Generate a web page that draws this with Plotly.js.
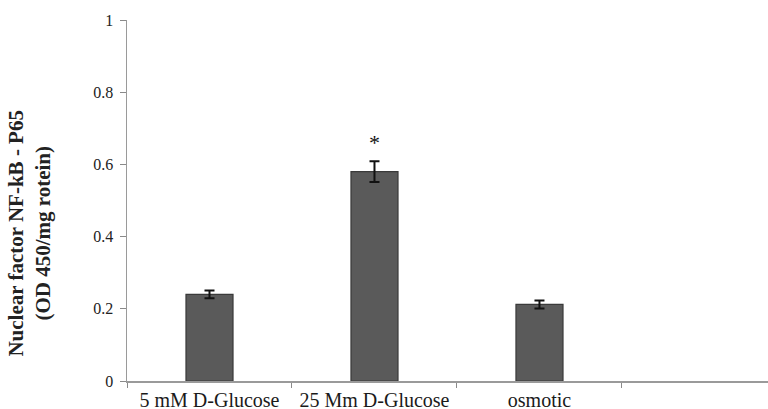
<!DOCTYPE html>
<html>
<head>
<meta charset="utf-8">
<script src="https://cdn.plot.ly/plotly-3.0.1.min.js"></script>
<style>html,body{margin:0;padding:0;background:#fff;}#chart{width:768px;height:409px;}</style>
</head>
<body>
<div id="chart"></div>
<script>
const categories = ["5 mM D-Glucose", "25 Mm D-Glucose", "osmotic"];
const allSlots = ["5 mM D-Glucose", "25 Mm D-Glucose", "osmotic", " "];
const values = [0.24, 0.58, 0.212];
const errors = [0.011, 0.029, 0.011];
const yTicks = [0, 0.2, 0.4, 0.6, 0.8, 1];
const yTickLabels = ["0", "0.2", "0.4", "0.6", "0.8", "1"];
const starCategory = "25 Mm D-Glucose";
const starY = 0.66;

const trace = {
  type: "bar",
  x: categories,
  y: values,
  width: 0.285,
  marker: {color: "#5a5a5a", line: {color: "#3a3a3a", width: 1.2}},
  error_y: {type: "data", array: errors, visible: true, color: "#111", thickness: 2, width: 5},
  hoverinfo: "none"
};

const serif = "Liberation Serif, Times New Roman, serif";

const layout = {
  width: 768, height: 409,
  margin: {l: 127, r: 0, t: 20, b: 28},
  paper_bgcolor: "#fff", plot_bgcolor: "#fff",
  showlegend: false,
  xaxis: {
    type: "category",
    categoryorder: "array",
    categoryarray: allSlots,
    range: [-0.5, 3.385],
    tickson: "boundaries",
    ticks: "outside", ticklen: 5, tickcolor: "#8a8a8a", tickwidth: 1,
    showline: true, linecolor: "#9a9a9a", linewidth: 1.5,
    showgrid: false, zeroline: false,
    tickfont: {family: serif, size: 20, color: "#1a1a1a"},
    fixedrange: true
  },
  yaxis: {
    range: [0, 1],
    tickvals: yTicks, ticktext: yTickLabels,
    ticks: "outside", ticklen: 6, tickcolor: "#8a8a8a", tickwidth: 1,
    showline: true, linecolor: "#9a9a9a", linewidth: 1.5,
    showgrid: false, zeroline: false,
    tickfont: {family: serif, size: 16, color: "#222"},
    ticklabelstandoff: 3,
    fixedrange: true
  },
  annotations: [
    {
      xref: "paper", yref: "paper", x: -0.152, y: 0.41,
      xanchor: "center", yanchor: "middle", textangle: -90, showarrow: false,
      text: "<b>Nuclear factor NF-kB - P65</b><br><b>(OD 450/mg rotein)</b>",
      font: {family: serif, size: 21, color: "#222"}, align: "center"
    },
    {
      xref: "x", yref: "y", x: starCategory, y: starY,
      showarrow: false, text: "*", yanchor: "middle",
      font: {family: serif, size: 22, color: "#111"}
    }
  ]
};

Plotly.newPlot("chart", [trace], layout, {displayModeBar: false, staticPlot: true});
</script>
</body>
</html>
